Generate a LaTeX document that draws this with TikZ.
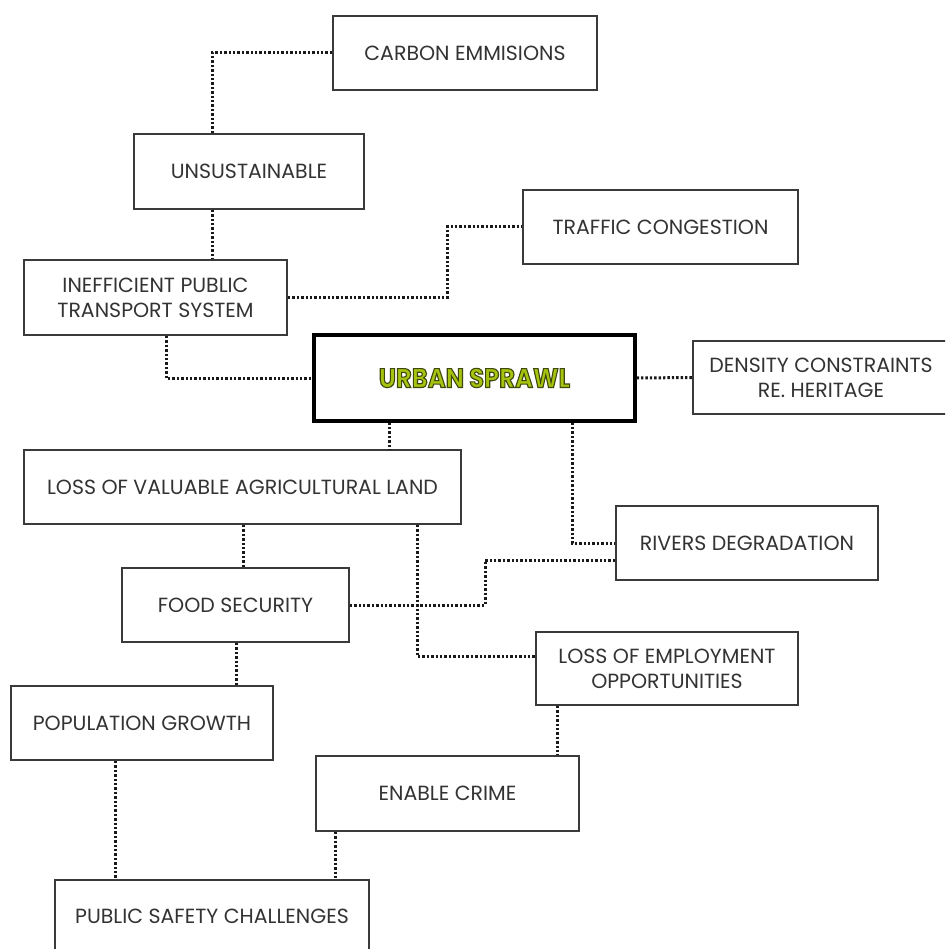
\documentclass[tikz,border=0pt]{standalone}
\usepackage{fontspec}
\setmainfont{Poppins}
\newfontfamily\sprawlfont{Poppins}[FakeStretch=0.9]
\usetikzlibrary{calc}
\definecolor{boxline}{HTML}{3A3A3A}
\definecolor{txt}{HTML}{333333}
\definecolor{sprawl}{HTML}{A4C410}
\begin{document}
\begin{tikzpicture}[x=1pt,y=-1pt,
  box/.style={draw=boxline, line width=1.8pt, rectangle, inner sep=0pt,
    text=txt, font=\fontsize{20.5}{25}\selectfont, align=center},
  mainbox/.style={draw=black, line width=3.2pt, rectangle, inner sep=0pt},
  conn/.style={draw=black!90, line width=3pt, dash pattern=on 2.4pt off 2pt}]
\useasboundingbox (0,0) rectangle (945,949);
\clip (0,0) rectangle (945,949);
\fill[white] (0,0) rectangle (945,949);

\node[box, minimum width=264pt, minimum height=74pt] (carbon) at (465,53) {CARBON EMMISIONS};
\node[box, minimum width=230pt, minimum height=75pt] (unsust) at (249,171.5) {UNSUSTAINABLE};
\node[box, minimum width=275pt, minimum height=74pt] (traffic) at (660.5,227) {TRAFFIC CONGESTION};
\node[box, minimum width=263pt, minimum height=75pt] (ineff) at (155.5,297.5) {INEFFICIENT PUBLIC\\TRANSPORT SYSTEM};
\node[mainbox, minimum width=321pt, minimum height=86pt] (urban) at (474.5,378)
  {\sprawlfont\fontsize{27}{30}\selectfont\bfseries\color{sprawl}\special{pdf:code 2 Tr 1.1 w 0.25 0.28 0.05 RG}URBAN SPRAWL\special{pdf:code 0 Tr}};
\node[box, minimum width=256pt, minimum height=73pt] (density) at (821,377.5) {DENSITY CONSTRAINTS\\RE. HERITAGE};
\node[box, minimum width=437pt, minimum height=74pt] (loss) at (242.5,487) {LOSS OF VALUABLE AGRICULTURAL LAND};
\node[box, minimum width=262pt, minimum height=74pt] (rivers) at (747,543) {RIVERS DEGRADATION};
\node[box, minimum width=227pt, minimum height=74pt] (food) at (235.5,605) {FOOD SECURITY};
\node[box, minimum width=262pt, minimum height=73pt] (employ) at (667,668.5) {LOSS OF EMPLOYMENT\\OPPORTUNITIES};
\node[box, minimum width=262pt, minimum height=74pt] (popul) at (142,723) {POPULATION GROWTH};
\node[box, minimum width=263pt, minimum height=75pt] (enable) at (447.5,793.5) {ENABLE CRIME};
\node[box, minimum width=314pt, minimum height=72pt] (public) at (212,916) {PUBLIC SAFETY CHALLENGES};

\draw[conn] (carbon.west) -| (unsust.north -| 212,0);
\draw[conn] (unsust.south -| 212,0) -- (ineff.north -| 212,0);
\draw[conn] (ineff.east) -- (ineff.east -| 447,0) |- (traffic.west);
\draw[conn] (ineff.south -| 166,0) |- (urban.west);
\draw[conn] (urban.east) -- (density.west);
\draw[conn] (urban.south -| 389,0) -- (loss.north -| 389,0);
\draw[conn] (urban.south -| 572,0) |- (rivers.west);
\draw[conn] (rivers.west |- 0,560) -| (food.east -| 485,0) -- (food.east);
\draw[conn] (loss.south -| 243,0) -- (food.north -| 243,0);
\draw[conn] (loss.south -| 417,0) |- (employ.west |- 0,656);
\draw[conn] (food.south -| 236,0) -- (popul.north -| 236,0);
\draw[conn] (employ.south -| 557,0) -- (enable.north -| 557,0);
\draw[conn] (popul.south -| 115,0) -- (public.north -| 115,0);
\draw[conn] (enable.south -| 335,0) -- (public.north -| 335,0);
\end{tikzpicture}
\end{document}
